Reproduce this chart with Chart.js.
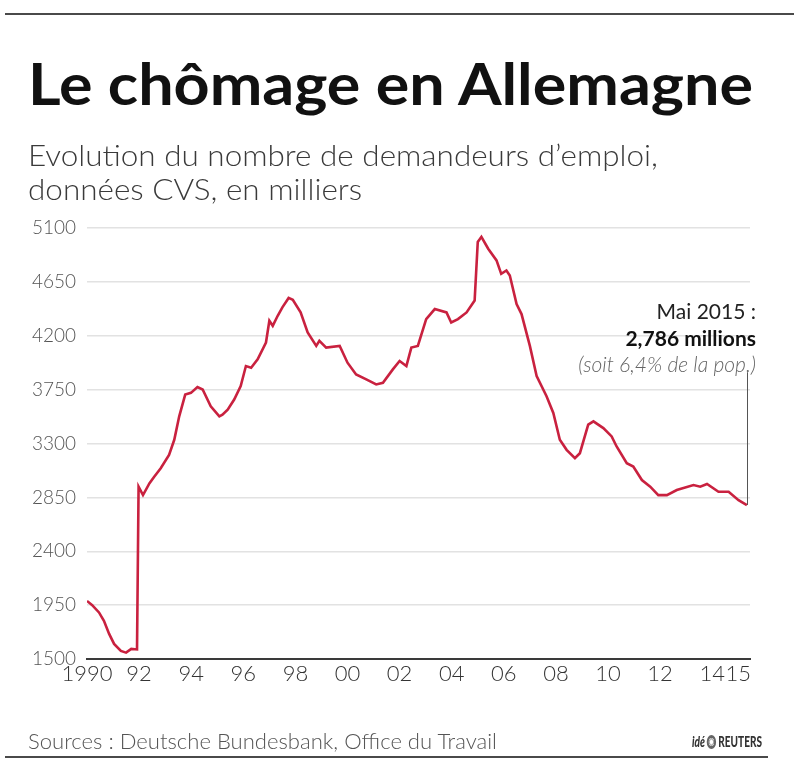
<!DOCTYPE html>
<html>
<head>
<meta charset="utf-8">
<script src="https://cdn.jsdelivr.net/npm/chart.js@4.4.1/dist/chart.umd.min.js"></script>
<style>
  html, body { margin:0; padding:0; background:#fff; }
  body { width:800px; height:774px; position:relative; overflow:hidden; font-family: Lato, "Noto Sans", sans-serif; }
  #c { position:absolute; left:0; top:0; }
  .t { position:absolute; white-space:nowrap; transform-origin: 0 0; }
  .rule { position:absolute; height:2px; background:#4a4a4a; }
  #title { left:28px; top:54px; font-size:58px; line-height:58px; font-weight:700; color:#111; }
  #sub { left:28px; top:137px; font-size:30px; line-height:34px; font-weight:300; color:#3a3a3a; }
  #src { left:28px; top:730px; font-size:21px; line-height:21px; font-weight:300; color:#555; }
  #ann { right:44px; top:298px; text-align:right; transform-origin: 100% 0; }
  #ann div { font-size:21px; line-height:26.5px; white-space:nowrap; }
  #logo { left:692px; top:733px; font-size:15px; line-height:16px; color:#333; font-weight:900; }
  #logo .ring { display:inline-block; width:14px; height:14px; border:3px solid #666; border-radius:50%; vertical-align:-2px; margin:0 3px; box-sizing:border-box; background:radial-gradient(circle, #fff 30%, #999 60%, #fff 70%); }
</style>
</head>
<body>
<div class="rule" style="left:5px; top:13px; width:789px;"></div>
<div class="rule" style="left:5px; top:756px; width:763px;"></div>
<canvas id="c" width="800" height="774"></canvas>
<div id="title" class="t" data-w="725">Le chômage en Allemagne</div>
<div id="sub" class="t" data-w="630">Evolution du nombre de demandeurs d’emploi,<br>données CVS, en milliers</div>
<div id="ann" class="t">
  <div style="color:#222; font-weight:400;">Mai 2015 :</div>
  <div style="color:#111; font-weight:700;">2,786 millions</div>
  <div style="color:#666; font-weight:300; font-style:italic;">(soit 6,4% de la pop.)</div>
</div>
<div id="src" class="t" data-w="469">Sources : Deutsche Bundesbank, Office du Travail</div>
<div id="logo" class="t" data-w="70"><span style="font-style:italic;">idé</span><span class="ring"></span>REUTERS</div>
<script>
// ---- data ----
const years = [
  1990.0, 1990.2, 1990.46, 1990.65, 1990.85, 1991.04, 1991.3, 1991.5, 1991.7, 1991.92,
  1991.98, 1992.15, 1992.4, 1992.58, 1992.83, 1993.15, 1993.35, 1993.54, 1993.77, 1993.99,
  1994.24, 1994.44, 1994.75, 1995.08, 1995.2, 1995.4, 1995.65, 1995.9, 1996.1, 1996.3,
  1996.55, 1996.87, 1997.0, 1997.13, 1997.32, 1997.5, 1997.74, 1997.9, 1998.2, 1998.47,
  1998.8, 1998.92, 1999.18, 1999.7, 2000.0, 2000.33, 2000.72, 2001.1, 2001.36, 2001.74,
  2002.0, 2002.26, 2002.45, 2002.7, 2003.02, 2003.35, 2003.8, 2003.98, 2004.24, 2004.57,
  2004.88, 2005.0, 2005.14, 2005.4, 2005.72, 2005.9, 2006.1, 2006.23, 2006.49, 2006.68,
  2007.0, 2007.26, 2007.64, 2007.9, 2008.15, 2008.41, 2008.73, 2008.92, 2009.24, 2009.44,
  2009.82, 2010.14, 2010.33, 2010.72, 2010.97, 2011.3, 2011.62, 2011.93, 2012.26, 2012.64,
  2013.28, 2013.54, 2013.8, 2014.24, 2014.63, 2015.01, 2015.33
];
const jobseekers = [
  1985, 1950, 1889, 1819, 1710, 1626, 1567, 1553, 1584, 1580,
  2940, 2869, 2968, 3023, 3093, 3205, 3331, 3527, 3709, 3723,
  3771, 3751, 3611, 3527, 3541, 3583, 3667, 3779, 3947, 3933,
  4003, 4143, 4325, 4283, 4367, 4437, 4516, 4501, 4395, 4227,
  4115, 4157, 4101, 4115, 3975, 3877, 3835, 3793, 3807, 3919,
  3989, 3947, 4101, 4115, 4339, 4423, 4395, 4311, 4339, 4395,
  4494, 4983, 5026, 4927, 4829, 4717, 4745, 4703, 4465, 4381,
  4115, 3863, 3695, 3555, 3331, 3247, 3177, 3219, 3457, 3485,
  3429, 3359, 3275, 3135, 3107, 2995, 2939, 2869, 2869, 2911,
  2953, 2939, 2962, 2897, 2897, 2827, 2786
];
const xTickValues = [1990, 1992, 1994, 1996, 1998, 2000, 2002, 2004, 2006, 2008, 2010, 2012, 2014, 2015];
const xTickLabels = ["1990", "92", "94", "96", "98", "00", "02", "04", "06", "08", "10", "12", "14", "15"];
const yTickValues = [1500, 1950, 2400, 2850, 3300, 3750, 4200, 4650, 5100];
const annotationTopValue = 3895;

const points = years.map((x, i) => ({ x: x, y: jobseekers[i] }));

const annotLine = {
  id: 'annotLine',
  afterDatasetsDraw(chart) {
    const { ctx, scales: { x, y } } = chart;
    const last = points[points.length - 1];
    const px = Math.round(x.getPixelForValue(last.x)) + 0.5;
    ctx.save();
    ctx.strokeStyle = '#555';
    ctx.lineWidth = 1;
    ctx.beginPath();
    ctx.moveTo(px, y.getPixelForValue(annotationTopValue));
    ctx.lineTo(px, y.getPixelForValue(last.y));
    ctx.stroke();
    ctx.restore();
  }
};

new Chart(document.getElementById('c'), {
  type: 'line',
  data: {
    datasets: [{
      data: points,
      borderColor: '#c9213f',
      borderWidth: 2.6,
      pointRadius: 0,
      tension: 0,
      fill: false
    }]
  },
  options: {
    responsive: false,
    devicePixelRatio: 1,
    animation: false,
    events: [],
    layout: { padding: { top: 228, left: 32, right: 50, bottom: 76 } },
    plugins: { legend: { display: false }, tooltip: { enabled: false } },
    scales: {
      x: {
        type: 'linear',
        min: 1990,
        max: 2015.45,
        afterBuildTicks: (s) => { s.ticks = xTickValues.map(v => ({ value: v })); },
        afterFit: (s) => { s.height = 39; },
        ticks: {
          autoSkip: false,
          maxRotation: 0,
          padding: 2,
          color: '#333',
          font: { family: 'Lato', size: 22, weight: 300 },
          callback: (v) => xTickLabels[xTickValues.indexOf(v)]
        },
        grid: { display: false, drawTicks: false },
        border: { display: true, color: '#3a3a3a', width: 2 }
      },
      y: {
        min: 1500,
        max: 5100,
        afterBuildTicks: (s) => { s.ticks = yTickValues.map(v => ({ value: v })); },
        afterFit: (s) => { s.width = 55; },
        ticks: {
          crossAlign: 'far',
          padding: 10,
          color: '#555',
          font: { family: 'Lato', size: 19, weight: 300 },
          callback: (v) => String(v)
        },
        grid: {
          drawTicks: false,
          color: (ctx) => (ctx.tick && ctx.tick.value === 1500) ? 'rgba(0,0,0,0)' : '#e2e2e2',
          lineWidth: 1.5
        },
        border: { display: false }
      }
    }
  },
  plugins: [annotLine]
});

function fit() {
  document.querySelectorAll('[data-w]').forEach(el => {
    el.style.transform = 'none';
    const w = el.getBoundingClientRect().width;
    const target = parseFloat(el.dataset.w);
    if (w > 0) el.style.transform = 'scaleX(' + (target / w) + ')';
  });
}
fit();
if (document.fonts && document.fonts.ready) document.fonts.ready.then(fit);
</script>
</body>
</html>
